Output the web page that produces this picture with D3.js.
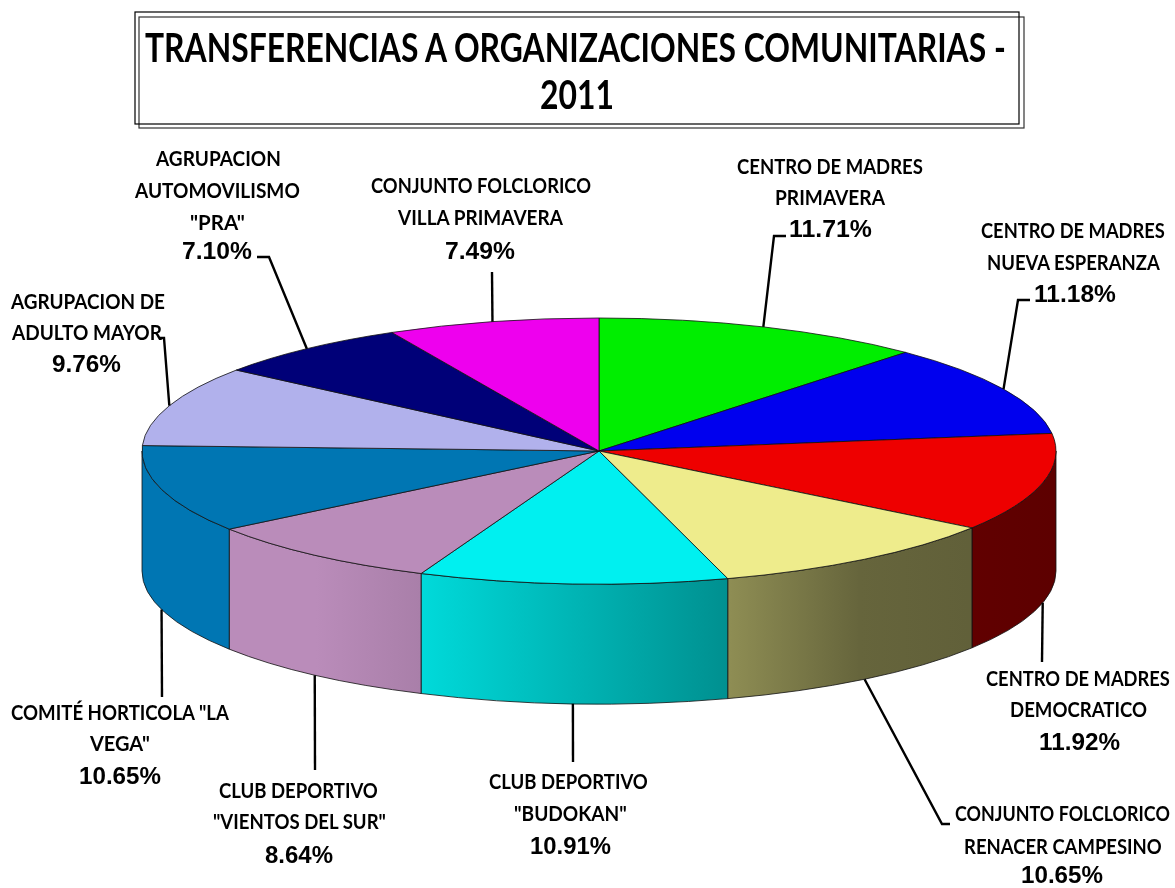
<!DOCTYPE html>
<html><head><meta charset="utf-8">
<script src="https://cdn.jsdelivr.net/npm/d3@7/dist/d3.min.js"></script>
<style>html,body{margin:0;padding:0;background:#fff}svg{display:block}</style>
</head><body><svg id="c" width="1175" height="888"></svg>
<script>
// ---- data ----
const categories = [
  "CENTRO DE MADRES PRIMAVERA","CENTRO DE MADRES NUEVA ESPERANZA","CENTRO DE MADRES DEMOCRATICO",
  "CONJUNTO FOLCLORICO RENACER CAMPESINO","CLUB DEPORTIVO \"BUDOKAN\"","CLUB DEPORTIVO \"VIENTOS DEL SUR\"",
  "COMITÉ HORTICOLA \"LA VEGA\"","AGRUPACION DE ADULTO MAYOR","AGRUPACION AUTOMOVILISMO \"PRA\"",
  "CONJUNTO FOLCLORICO VILLA PRIMAVERA"];
const values = [11.71,11.18,11.92,10.65,10.91,8.64,10.65,9.76,7.10,7.49];
const colors = ["#00ee00","#0000ee","#ee0000","#eeec8c","#00f0f0","#ba8cba","#0076b3","#b1b1ec","#000078","#ee00ee"];
const titleLines = ["TRANSFERENCIAS A ORGANIZACIONES COMUNITARIAS -","2011"];
const labelLines = [
  ["CENTRO DE MADRES","PRIMAVERA"],["CENTRO DE MADRES","NUEVA ESPERANZA"],["CENTRO DE MADRES","DEMOCRATICO"],
  ["CONJUNTO FOLCLORICO","RENACER CAMPESINO"],["CLUB DEPORTIVO","\"BUDOKAN\""],["CLUB DEPORTIVO","\"VIENTOS DEL SUR\""],
  ["COMITÉ HORTICOLA \"LA","VEGA\""],["AGRUPACION DE","ADULTO MAYOR"],["AGRUPACION","AUTOMOVILISMO","\"PRA\""],
  ["CONJUNTO FOLCLORICO","VILLA PRIMAVERA"]];

// ---- layout ----
const rimX = d3.scaleLinear().domain([-1,1]).range([142,1056]);
const rimY = d3.scaleLinear().domain([-1,1]).range([318,584]);
const depth = 120;
// per-line [x0,x1,centerY] extents of each label, last entry is the percent text
const labelBoxes = [
  [[737,923,166],[775,885,197],[789,872,228]],
  [[981,1165,230],[987,1160,262],[1034,1116,293]],
  [[986,1170,678],[1010,1147,709],[1039,1120,741]],
  [[955,1170,813],[964,1162,846],[1021,1103,874]],
  [[489,648,781],[514,627,813],[530,611,845]],
  [[219,378,790],[213,386,821],[265,333,854]],
  [[11,229,712],[90,150,743],[79,161,775]],
  [[11,165,301],[12,162,332],[52,121,363]],
  [[156,281,158],[135,300,190],[190,245,222],[182,252,250]],
  [[371,591,185],[398,563,217],[445,515,250]]];
// leader waypoints after the rim anchor
const leaderPts = [
  [[774,236],[786,236]],[[1018,300],[1030,300]],[[1042,662]],[[942,824],[950,824]],[[573,762]],
  [[315,770]],[[162,697]],[[164,338],[160,338]],[[269,257],[257,257]],[[492,272]]];
// side-wall shade factor across the pie's width
const shadeStops = [[0,1],[0.19,1],[0.305,.91],[0.64,.6],[0.785,.43],[1,.39]];

const svg = d3.select("#c");
const defs = svg.append("defs");
const arcs = d3.pie().value(d=>d).sort(null)(values);
const px = a => rimX(Math.sin(a)), py = a => rimY(-Math.cos(a));
const cx = rimX(0), cy = rimY(0), rx = rimX(1)-cx, ry = rimY(1)-cy;

// title frame
[[139,17,885,111,"#333"],[135,12,884,112,"#000"]].forEach(r=>{
  svg.append("rect").attr("x",r[0]).attr("y",r[1]).attr("width",r[2]).attr("height",r[3])
    .attr("fill","none").attr("stroke",r[4]).attr("stroke-width",1.2);
});

// side-wall gradients
colors.forEach((c,i)=>{
  const g = defs.append("linearGradient").attr("id","s"+i).attr("gradientUnits","userSpaceOnUse")
    .attr("x1",rimX(-1)).attr("x2",rimX(1)).attr("y1",0).attr("y2",0);
  const base = d3.rgb(c);
  shadeStops.forEach(s=>g.append("stop").attr("offset",s[0])
    .attr("stop-color",d3.rgb(base.r*s[1],base.g*s[1],base.b*s[1]).formatHex()));
});

// side walls (front half only)
const side = svg.append("g");
arcs.forEach((d,i)=>{
  const a0 = Math.max(d.startAngle,Math.PI/2), a1 = Math.min(d.endAngle,Math.PI*1.5);
  if (a1<=a0) return;
  side.append("path")
    .attr("d",`M${px(a0)},${py(a0)}A${rx},${ry} 0 0 1 ${px(a1)},${py(a1)}L${px(a1)},${py(a1)+depth}A${rx},${ry} 0 0 0 ${px(a0)},${py(a0)+depth}Z`)
    .attr("fill",`url(#s${i})`).attr("stroke","#111").attr("stroke-width",.8);
});

// top faces
svg.append("g").selectAll("path").data(arcs).join("path")
  .attr("d",d=>{
    const big = d.endAngle-d.startAngle>Math.PI?1:0;
    return `M${cx},${cy}L${px(d.startAngle)},${py(d.startAngle)}A${rx},${ry} 0 ${big} 1 ${px(d.endAngle)},${py(d.endAngle)}Z`;
  })
  .attr("fill",(d,i)=>colors[i]).attr("stroke","#111").attr("stroke-width",.8).attr("stroke-linejoin","round");

// leaders
const line = d3.line();
arcs.forEach((d,i)=>{
  const m = (d.startAngle+d.endAngle)/2;
  const front = m>Math.PI/2 && m<Math.PI*1.5;
  const start = [px(m), py(m)+(front?depth:0)];
  svg.append("path").attr("d",line([start,...leaderPts[i]]))
    .attr("fill","none").attr("stroke","#000").attr("stroke-width",2.4);
});

// text: natural width is measured, then squeezed horizontally to its box
const textLayer = svg.append("g").style("filter","blur(0.4px)");
function put(str,box,size,family,weight){
  const t = textLayer.append("text").text(str)
    .attr("font-family",family).attr("font-size",size).attr("font-weight",weight).attr("fill","#000")
    .style("white-space","pre");
  const sx = (box[1]-box[0])/t.node().getComputedTextLength();
  t.attr("transform",`translate(${box[0]},${box[2]+size*.36}) scale(${sx},1)`);
}
const lblFont = "Lato, 'Open Sans', sans-serif";
const pctFont = "'Liberation Sans', Arial, sans-serif";
labelLines.forEach((ls,i)=>{
  ls.forEach((t,j)=>put(t,labelBoxes[i][j],21,lblFont,700));
  put(values[i].toFixed(2)+"%",labelBoxes[i][ls.length],24,pctFont,700);
});
put(titleLines[0],[145,1006,47],41,lblFont,700);
put(titleLines[1],[540,614,94],41,lblFont,700);
</script></body></html>
